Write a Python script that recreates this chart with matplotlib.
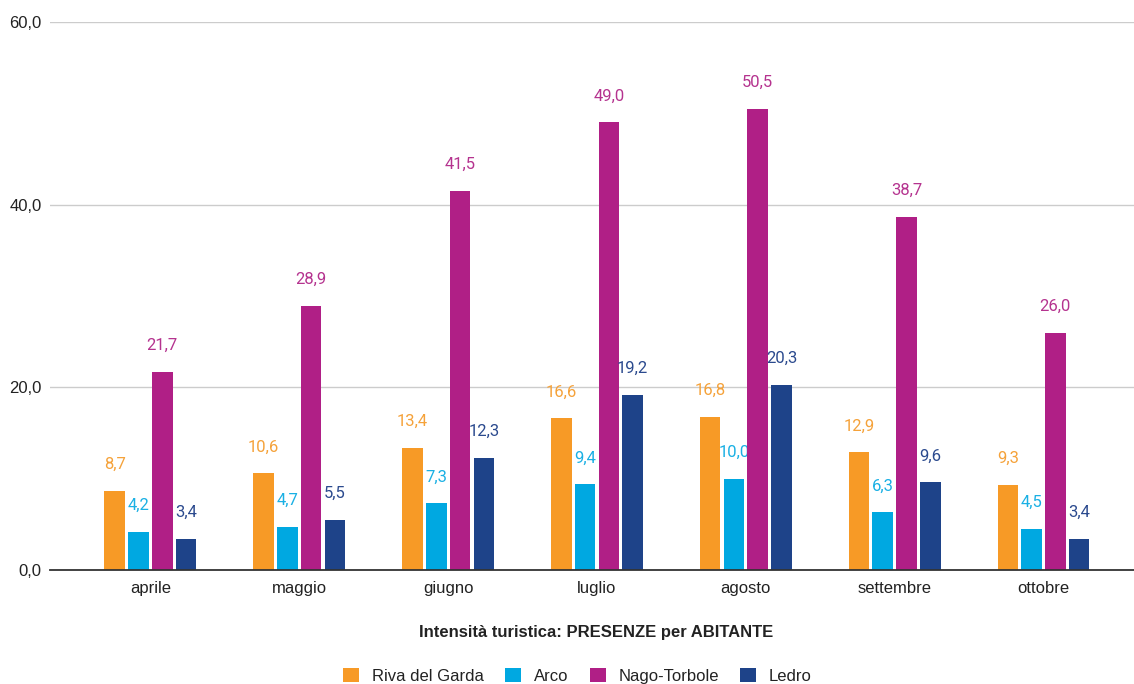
import matplotlib
matplotlib.use("Agg")
import matplotlib.pyplot as plt
import numpy as np
from matplotlib.patches import Patch

months = ["aprile", "maggio", "giugno", "luglio", "agosto", "settembre", "ottobre"]
riva = [8.7, 10.6, 13.4, 16.6, 16.8, 12.9, 9.3]
arco = [4.2, 4.7, 7.3, 9.4, 10.0, 6.3, 4.5]
nago = [21.7, 28.9, 41.5, 49.0, 50.5, 38.7, 26.0]
ledro = [3.4, 5.5, 12.3, 19.2, 20.3, 9.6, 3.4]
series_names = ["Riva del Garda", "Arco", "Nago-Torbole", "Ledro"]
yticks = [0, 20, 40, 60]

colors = ["#F79A26", "#00A8E1", "#B01F86", "#1E4389"]
label_colors = ["#F5A23A", "#1AB0E4", "#B5338F", "#2B4A8E"]

fig = plt.figure(figsize=(11.34, 6.84), dpi=100)
ax = fig.add_axes([50/1134, 1-570/684, 1-50/1134, (570-22)/684])

x = np.arange(len(months))
w = 0.138
step = 0.16
data = [riva, arco, nago, ledro]
for i, (vals, c, lc) in enumerate(zip(data, colors, label_colors)):
    off = (i - 1.5) * step
    ax.bar(x + off, vals, width=w, color=c, zorder=3)
    for xi, v in zip(x, vals):
        ax.annotate(f"{v:.1f}".replace(".", ","), (xi + off, v), xytext=(0, 13.5),
                    textcoords="offset points", ha="center", va="bottom",
                    color=lc, fontsize=12, family="Roboto")

ax.set_xlim(-0.675, 6.608)
ax.set_ylim(0, 60)
ax.set_yticks(yticks)
ax.set_yticklabels([f"{t:.1f}".replace(".", ",") for t in yticks], family="Liberation Sans",
                   fontsize=12, color="#222222")
ax.set_xticks(x)
ax.set_xticklabels(months, family="Liberation Sans", fontsize=12, color="#222222")
ax.tick_params(axis="both", length=0)
ax.tick_params(axis="x", pad=8)
ax.tick_params(axis="y", pad=6)
ax.grid(axis="y", color="#cccccc", linewidth=1, zorder=0)
for s in ["top", "right", "left"]:
    ax.spines[s].set_visible(False)
ax.spines["bottom"].set_color("#333333")
ax.spines["bottom"].set_linewidth(1.3)
ax.spines["bottom"].set_zorder(4)

fig.text(596.5/1134, 1-632/684, "Intensità turistica: PRESENZE per ABITANTE", ha="center", va="center",
         fontsize=12, fontweight="bold", family="Liberation Sans", color="#222222")

handles = [Patch(facecolor=c, edgecolor="none") for c in colors]
leg = fig.legend(handles, series_names, loc="center", bbox_to_anchor=(577.5/1134, 1-676/684),
                 ncol=4, frameon=False, prop={"family": "Liberation Sans", "size": 12},
                 handlelength=0.95, handleheight=0.95, columnspacing=1.3, handletextpad=0.75)
for t in leg.get_texts():
    t.set_color("#222222")

fig.savefig("out.png", dpi=100)
